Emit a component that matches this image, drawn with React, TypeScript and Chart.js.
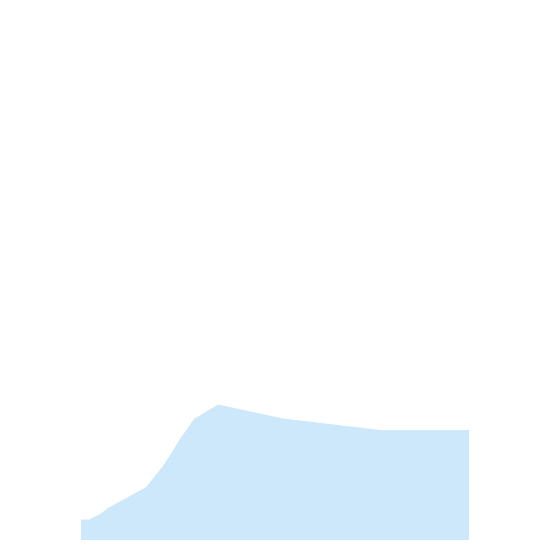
import { useEffect, useRef } from "react";
import { Chart, registerables } from "chart.js";

Chart.register(...registerables);

// x positions (0-100) and area heights (0-100)
const xValues = [0, 2.1, 4.9, 7.0, 16.8, 20.9, 23, 25.5, 29.1, 30.2, 35.3, 52.1, 77.1, 100];
const yValues = [4.1, 4.1, 5.2, 6.4, 10.6, 14.6, 17, 20.2, 24.2, 24.7, 27.1, 24.3, 22, 22];

const FILL_COLOR = "rgba(54, 162, 235, 0.25)";

export default function App() {
  const chartRef = useRef<HTMLCanvasElement>(null);
  const chartInstance = useRef<Chart | null>(null);

  useEffect(() => {
    if (!chartRef.current) return;
    if (chartInstance.current) {
      chartInstance.current.destroy();
    }
    const ctx = chartRef.current.getContext("2d");
    if (!ctx) return;

    chartInstance.current = new Chart(ctx, {
      type: "line",
      data: {
        datasets: [
          {
            data: xValues.map((x, i) => ({ x, y: yValues[i] })),
            backgroundColor: FILL_COLOR,
            borderWidth: 0,
            pointRadius: 0,
            fill: "origin",
            tension: 0,
          },
        ],
      },
      options: {
        responsive: true,
        maintainAspectRatio: false,
        animation: false,
        layout: { padding: { left: 81, right: 81, top: 40, bottom: 10 } },
        plugins: {
          legend: { display: false },
          tooltip: { enabled: false },
        },
        scales: {
          x: { type: "linear", min: 0, max: 100, display: false },
          y: { min: 0, max: 100, display: false },
        },
      },
    });

    return () => {
      if (chartInstance.current) {
        chartInstance.current.destroy();
        chartInstance.current = null;
      }
    };
  }, []);

  return (
    <div style={{ position: "absolute", left: 0, top: 0, width: 550, height: 550 }}>
      <canvas ref={chartRef}></canvas>
    </div>
  );
}
